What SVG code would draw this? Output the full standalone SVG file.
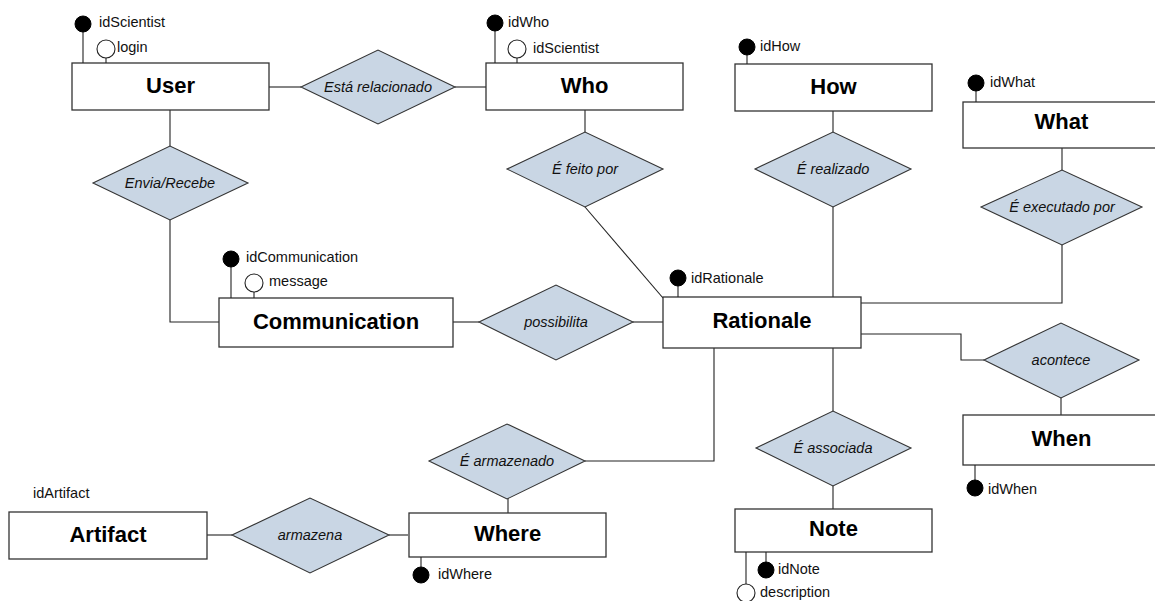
<svg xmlns="http://www.w3.org/2000/svg" width="1155" height="601" viewBox="0 0 1155 601">
<style>
.ent{fill:#fff;stroke:#333;stroke-width:1.3}
.rel{fill:#c9d6e4;stroke:#333;stroke-width:1.1}
.ln{fill:none;stroke:#222;stroke-width:1.1}
.t{font-family:"Liberation Sans",Arial,sans-serif;font-weight:bold;font-size:22px;text-anchor:middle;fill:#000}
.r{font-family:"Liberation Sans",Arial,sans-serif;font-style:italic;font-size:14.5px;text-anchor:middle;fill:#111}
.a{font-family:"Liberation Sans",Arial,sans-serif;font-size:14.5px;fill:#111}
.pk{fill:#000;stroke:#000}
.at{fill:#fff;stroke:#222;stroke-width:1.1}
</style>
<g id="connectors" class="ln">
<line x1="269" y1="87" x2="301" y2="87"/>
<line x1="455" y1="87" x2="486" y2="87"/>
<line x1="170" y1="110" x2="170" y2="146"/>
<polyline points="170,220 170,322 219,322"/>
<line x1="453" y1="322" x2="479" y2="322"/>
<line x1="633" y1="322" x2="663" y2="322"/>
<line x1="585" y1="110" x2="585" y2="132"/>
<line x1="585" y1="207" x2="663" y2="298"/>
<line x1="833" y1="110" x2="833" y2="132"/>
<line x1="833" y1="207" x2="833" y2="297"/>
<line x1="1062" y1="148" x2="1062" y2="170"/>
<polyline points="1062,245 1062,303 861,303"/>
<polyline points="861,334 961,334 961,360 984,360"/>
<line x1="1061" y1="398" x2="1061" y2="415"/>
<line x1="833" y1="348" x2="833" y2="411"/>
<line x1="833" y1="486" x2="833" y2="509"/>
<polyline points="585,461 714,461 714,348"/>
<line x1="508" y1="499" x2="508" y2="513"/>
<line x1="207" y1="535" x2="232" y2="535"/>
<line x1="389" y1="535" x2="408" y2="535"/>
</g>
<g id="User">
<rect class="ent" x="72" y="63" width="197" height="47"/>
<text class="t" x="170.5" y="93">User</text>
<line class="ln" x1="83" y1="30" x2="83" y2="63"/>
<circle class="pk" cx="83" cy="24" r="8"/>
<text class="a" x="99" y="27">idScientist</text>
<line class="ln" x1="106" y1="58" x2="106" y2="63"/>
<circle class="at" cx="106" cy="49" r="9"/>
<text class="a" x="117" y="52">login</text>
</g>
<g id="Who">
<rect class="ent" x="486" y="63" width="197" height="47"/>
<text class="t" x="584.5" y="93">Who</text>
<line class="ln" x1="495" y1="29" x2="495" y2="63"/>
<circle class="pk" cx="495" cy="23" r="8"/>
<text class="a" x="508" y="27">idWho</text>
<line class="ln" x1="517" y1="58" x2="517" y2="63"/>
<circle class="at" cx="517" cy="49" r="9"/>
<text class="a" x="533" y="53">idScientist</text>
</g>
<g id="How">
<rect class="ent" x="735" y="64" width="197" height="47"/>
<text class="t" x="833.5" y="94">How</text>
<line class="ln" x1="747" y1="53" x2="747" y2="64"/>
<circle class="pk" cx="747" cy="47" r="8"/>
<text class="a" x="760" y="51">idHow</text>
</g>
<g id="What">
<rect class="ent" x="963" y="102" width="197" height="46"/>
<text class="t" x="1061.5" y="129">What</text>
<line class="ln" x1="976" y1="88" x2="976" y2="102"/>
<circle class="pk" cx="976" cy="83" r="8"/>
<text class="a" x="990" y="87">idWhat</text>
</g>
<g id="Communication">
<rect class="ent" x="219" y="298" width="234" height="49"/>
<text class="t" x="336" y="329">Communication</text>
<line class="ln" x1="231" y1="265" x2="231" y2="298"/>
<circle class="pk" cx="231" cy="259" r="8"/>
<text class="a" x="246" y="262">idCommunication</text>
<line class="ln" x1="254" y1="292" x2="254" y2="298"/>
<circle class="at" cx="254" cy="283" r="9"/>
<text class="a" x="269" y="286">message</text>
</g>
<g id="Rationale">
<rect class="ent" x="663" y="297" width="198" height="51"/>
<text class="t" x="762" y="328">Rationale</text>
<line class="ln" x1="678" y1="284" x2="678" y2="297"/>
<circle class="pk" cx="678" cy="278" r="8"/>
<text class="a" x="691" y="283">idRationale</text>
</g>
<g id="When">
<rect class="ent" x="963" y="415" width="197" height="50"/>
<text class="t" x="1061.5" y="446">When</text>
<line class="ln" x1="975" y1="465" x2="975" y2="482"/>
<circle class="pk" cx="975" cy="488" r="8"/>
<text class="a" x="988" y="494">idWhen</text>
</g>
<g id="Note">
<rect class="ent" x="735" y="509" width="197" height="43"/>
<text class="t" x="833.5" y="536">Note</text>
<line class="ln" x1="766" y1="552" x2="766" y2="564"/>
<circle class="pk" cx="766" cy="570" r="8"/>
<text class="a" x="778" y="574">idNote</text>
<line class="ln" x1="746" y1="552" x2="746" y2="584"/>
<circle class="at" cx="746" cy="593" r="9"/>
<text class="a" x="760" y="597">description</text>
</g>
<g id="Where">
<rect class="ent" x="409" y="513" width="197" height="44"/>
<text class="t" x="507.5" y="541">Where</text>
<line class="ln" x1="421" y1="557" x2="421" y2="567"/>
<circle class="pk" cx="421" cy="575" r="8"/>
<text class="a" x="438" y="579">idWhere</text>
</g>
<g id="Artifact">
<rect class="ent" x="9" y="512" width="198" height="47"/>
<text class="t" x="108" y="542">Artifact</text>
<text class="a" x="33" y="498">idArtifact</text>
</g>
<g id="rel-esta-relacionado">
<polygon class="rel" points="301,87 378,50 455,87 378,124"/>
<text class="r" x="378" y="92">Está relacionado</text>
</g>
<g id="rel-envia-recebe">
<polygon class="rel" points="93,183 170,146 248,183 170,220"/>
<text class="r" x="170" y="188">Envia/Recebe</text>
</g>
<g id="rel-feito-por">
<polygon class="rel" points="507,169 585,132 663,169 585,207"/>
<text class="r" x="585" y="174">É feito por</text>
</g>
<g id="rel-realizado">
<polygon class="rel" points="755,169 833,132 911,169 833,207"/>
<text class="r" x="833" y="174">É realizado</text>
</g>
<g id="rel-executado-por">
<polygon class="rel" points="981,207 1062,170 1142,207 1062,245"/>
<text class="r" x="1062" y="212">É executado por</text>
</g>
<g id="rel-possibilita">
<polygon class="rel" points="479,322 556,285 633,322 556,360"/>
<text class="r" x="556" y="327">possibilita</text>
</g>
<g id="rel-acontece">
<polygon class="rel" points="984,360 1061,323 1139,360 1061,398"/>
<text class="r" x="1061" y="365">acontece</text>
</g>
<g id="rel-associada">
<polygon class="rel" points="756,448 833,411 911,448 833,486"/>
<text class="r" x="833" y="453">É associada</text>
</g>
<g id="rel-armazenado">
<polygon class="rel" points="429,461 507,424 585,461 507,499"/>
<text class="r" x="507" y="466">É armazenado</text>
</g>
<g id="rel-armazena">
<polygon class="rel" points="232,535 310,498 389,535 310,573"/>
<text class="r" x="310" y="540">armazena</text>
</g>
</svg>
